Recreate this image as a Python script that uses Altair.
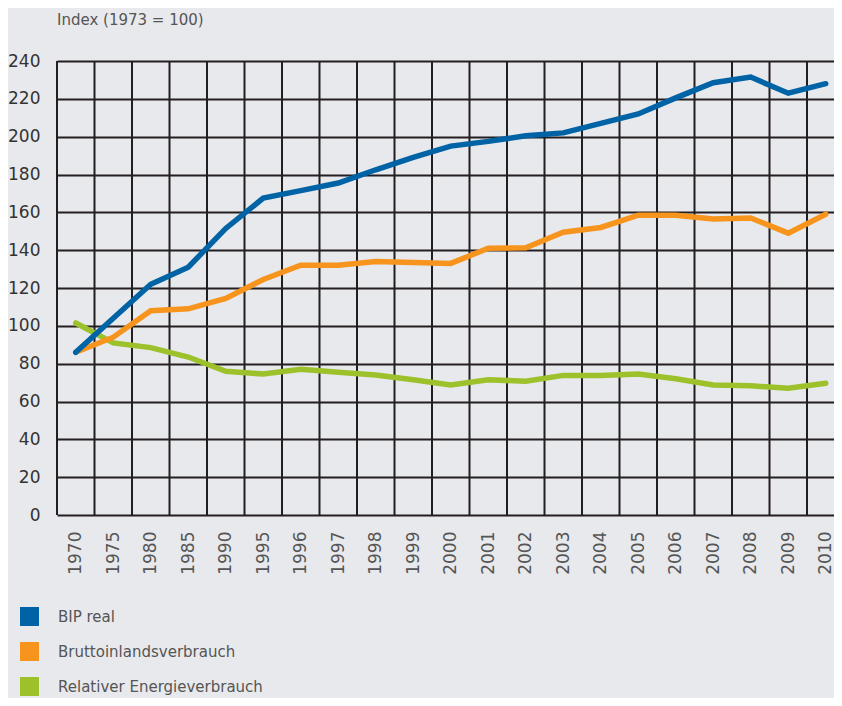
import altair as alt
import pandas as pd

years = ["1970", "1975", "1980", "1985", "1990", "1995", "1996", "1997", "1998",
         "1999", "2000", "2001", "2002", "2003", "2004", "2005", "2006", "2007",
         "2008", "2009", "2010"]

bip_real = [86, 104, 122, 131, 151.5, 167.5, 171.5, 175.5, 182.5, 189, 195,
            197.5, 200.5, 202, 207, 212, 220.5, 228.5, 231.5, 223, 228]
brutto = [86, 94, 108, 109, 114.5, 124.5, 132, 132, 134, 133.5, 133,
          141, 141.3, 149.5, 152, 158.5, 158.5, 156.5, 157, 149, 159]
relativ = [101.5, 91, 88.5, 83.5, 76, 74.5, 77, 75.5, 74, 71.5, 68.7,
           71.5, 70.7, 73.8, 73.8, 74.5, 72, 68.7, 68.3, 67, 69.6]

series_names = ["BIP real", "Bruttoinlandsverbrauch", "Relativer Energieverbrauch"]
series_colors = ["#0063a6", "#f7941d", "#9dc12b"]
y_ticks = [0, 20, 40, 60, 80, 100, 120, 140, 160, 180, 200, 220, 240]

rows = []
# draw order: green first, blue last (on top)
for name, vals in [(series_names[2], relativ), (series_names[1], brutto), (series_names[0], bip_real)]:
    for i, v in enumerate(vals):
        rows.append({"idx": i, "year": years[i], "series": name, "value": v})
df = pd.DataFrame(rows)

grid_df = pd.DataFrame({"idx": [k - 0.5 for k in range(len(years))]})

FONT = "DejaVu Sans"
GRID = "#231f20"
xscale = alt.Scale(domain=[-0.5, 20.22], nice=False, zero=False)
yscale = alt.Scale(domain=[0, 240], nice=False, zero=True)

label_js = "[" + ",".join("'" + y + "'" for y in years) + "]"

x_axis = alt.Axis(values=list(range(len(years))), labelExpr=label_js + "[datum.value]",
                  labelAngle=270, labelFontSize=17, labelFont=FONT, labelColor="#555555",
                  labelPadding=16, ticks=False, domain=False, grid=False, title=None,
                  labelFlush=False, labelOverlap=False)
y_axis = alt.Axis(values=y_ticks, grid=True, gridColor=GRID, gridWidth=2,
                  ticks=False, domain=False, labelFontSize=17, labelFont=FONT,
                  labelColor="#333333", labelPadding=17, title=None,
                  labelFlush=False, labelOverlap=False)
color_scale = alt.Scale(domain=series_names, range=series_colors)

vgrid = alt.Chart(grid_df).mark_rule(color=GRID, strokeWidth=2).encode(
    x=alt.X("idx:Q", scale=xscale, axis=x_axis)
)

legend_layer = alt.Chart(df).mark_square(opacity=0, size=10).encode(
    x=alt.X("idx:Q", scale=xscale, axis=x_axis),
    y=alt.Y("value:Q", scale=yscale, axis=y_axis),
    color=alt.Color("series:N", scale=color_scale,
                    legend=alt.Legend(orient="none", legendX=-37, legendY=546,
                                      direction="vertical", title=None,
                                      symbolType="square", symbolSize=361,
                                      symbolStrokeWidth=0, symbolOpacity=1,
                                      labelFontSize=15, labelFont=FONT,
                                      labelColor="#555555", labelOffset=19,
                                      labelLimit=0, rowPadding=16)),
)

lines = alt.Chart(df).mark_line(strokeWidth=5.5, strokeCap="round").encode(
    x=alt.X("idx:Q", scale=xscale, axis=x_axis),
    y=alt.Y("value:Q", scale=yscale, axis=y_axis),
    color=alt.Color("series:N", scale=color_scale, legend=None),
    detail="series:N",
)

chart = alt.layer(vgrid, legend_layer, lines).properties(
    width=777, height=454,
    title=alt.Title("Index (1973 = 100)", anchor="start", frame="group", fontSize=15,
                    fontWeight="normal", font=FONT, color="#555555", offset=24),
    autosize=alt.AutoSizeParams(type="none"),
    padding={"left": 49, "top": 53, "right": 0, "bottom": 183},
    background="#e8e9ec",
).configure_view(stroke=None)

chart.save("out.html", embed_options={"renderer": "svg", "actions": False})
